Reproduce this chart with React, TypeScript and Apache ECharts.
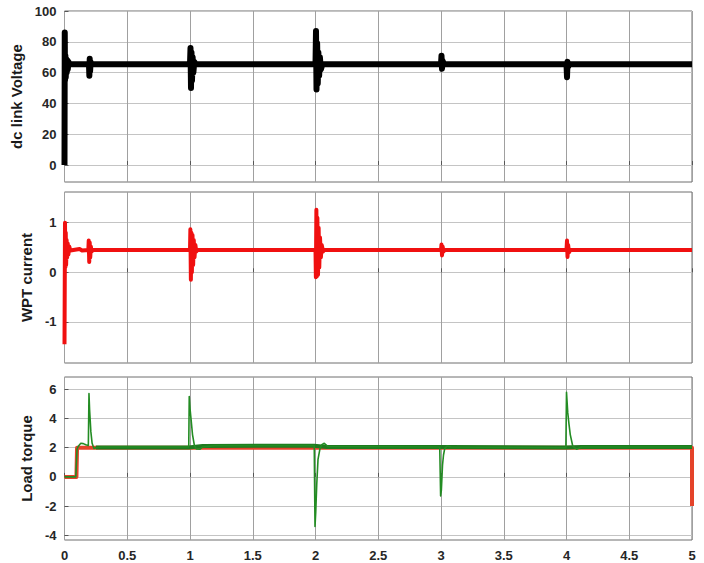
import React, { useEffect, useRef } from "react";
import * as echarts from "echarts";

// ---- tick labels ----
const timeTicks = [0, 0.5, 1, 1.5, 2, 2.5, 3, 3.5, 4, 4.5, 5];
const dcTicks = [0, 20, 40, 60, 80, 100];
const wptTicks = [-1, 0, 1];
const torqueTicks = [-4, -2, 0, 2, 4, 6];

// ---- axis names ----
const dcName = "dc link Voltage";
const wptName = "WPT current";
const torqueName = "Load torque";

// ---- series values [time s, value] ----
const dcVoltage: [number, number][] = [
  [0, 0], [0.002, 86], [0.004, 55], [0.007, 71], [0.01, 57], [0.013, 69], [0.017, 60], [0.021, 68],
  [0.026, 62], [0.032, 67], [0.04, 65.5],
  [0.195, 65.5], [0.198, 58], [0.201, 69], [0.204, 61], [0.208, 67], [0.214, 65.5],
  [1.0, 65.5], [1.004, 76], [1.008, 50], [1.012, 73], [1.016, 55], [1.021, 70], [1.027, 60], [1.034, 67], [1.045, 65.5],
  [2.0, 65.5], [2.004, 87], [2.008, 49], [2.013, 79], [2.018, 53], [2.023, 73], [2.029, 58], [2.035, 70], [2.043, 62], [2.055, 65.5],
  [3.0, 65.5], [3.004, 71], [3.008, 62.5], [3.014, 67.5], [3.022, 65.5],
  [4.0, 65.5], [4.004, 57], [4.008, 67], [4.014, 64], [4.022, 65.5],
  [5, 65.5],
];

const wptCurrent: [number, number][] = [
  [0, -1.45], [0.004, 1.0], [0.007, 0.1], [0.01, 0.8], [0.013, 0.15], [0.017, 0.65], [0.021, 0.3], [0.026, 0.58],
  [0.031, 0.36], [0.038, 0.52], [0.046, 0.44], [0.12, 0.47], [0.14, 0.44],
  [0.19, 0.45], [0.193, 0.64], [0.197, 0.21], [0.201, 0.6], [0.205, 0.3], [0.21, 0.52], [0.216, 0.42], [0.225, 0.45],
  [1.0, 0.45], [1.003, 0.87], [1.007, -0.15], [1.011, 0.8], [1.015, 0.0], [1.02, 0.75], [1.025, 0.15], [1.03, 0.65],
  [1.036, 0.3], [1.043, 0.55], [1.05, 0.42], [1.06, 0.45],
  [2.0, 0.45], [2.003, -0.1], [2.007, 1.26], [2.011, -0.08], [2.015, 1.1], [2.02, -0.05], [2.025, 0.9], [2.03, 0.1],
  [2.036, 0.7], [2.043, 0.3], [2.05, 0.55], [2.06, 0.42], [2.07, 0.45],
  [3.0, 0.45], [3.004, 0.56], [3.008, 0.34], [3.013, 0.52], [3.02, 0.42], [3.03, 0.45],
  [4.0, 0.45], [4.004, 0.64], [4.008, 0.31], [4.013, 0.55], [4.02, 0.4], [4.03, 0.45],
  [5, 0.45],
];

const torqueRef: [number, number][] = [
  [0, 0], [0.095, 0], [0.1, 2], [5, 2], [5, -2],
];

const torqueBand: [number, number][] = [
  [0.25, 2.02], [0.99, 2.02], [1.1, 2.12], [1.99, 2.14], [2.09, 2.05], [2.99, 2.04],
  [3.06, 2.04], [3.995, 2.02], [4.12, 2.05], [5, 2.05],
];

const torqueActual: [number, number][] = [
  [0, 0], [0.09, 0], [0.1, 1.9], [0.11, 2.1], [0.13, 2.3], [0.15, 2.28], [0.17, 2.2], [0.19, 2.15],
  [0.195, 5.7], [0.2, 4.6], [0.21, 3.1], [0.22, 2.3], [0.235, 1.95], [0.25, 2.0], [0.3, 2.05],
  [0.99, 2.05], [0.994, 5.5], [1.0, 4.7], [1.01, 3.8], [1.02, 2.9], [1.035, 2.15], [1.05, 1.92], [1.08, 1.9], [1.1, 2.05], [1.2, 2.14],
  [1.99, 2.15], [1.996, -3.4], [2.002, -2.4], [2.01, -0.5], [2.02, 1.2], [2.035, 1.9], [2.05, 2.2], [2.07, 2.3], [2.1, 2.08],
  [2.99, 2.05], [2.997, -1.3], [3.003, -0.9], [3.012, 0.8], [3.02, 1.5], [3.03, 1.95], [3.05, 2.12], [3.08, 2.05],
  [3.995, 2.0], [4.0, 5.8], [4.01, 4.4], [4.02, 3.6], [4.03, 2.9], [4.05, 2.1], [4.08, 1.9], [4.12, 2.05], [5, 2.05],
];

const FONT = "Liberation Sans, Arial, sans-serif";

export default function App() {
  const ref = useRef<HTMLDivElement>(null);

  useEffect(() => {
    if (!ref.current) return;
    const chart = echarts.init(ref.current, null, { renderer: "svg" });

    const grids = [
      { left: 64.5, right: 12, top: 11, height: 171 },
      { left: 64.5, right: 12, top: 192, height: 171 },
      { left: 64.5, right: 12, top: 377, height: 163 },
    ].map((g) => ({
      ...g,
      show: true,
      borderColor: "#6e6e6e",
      borderWidth: 1,
      backgroundColor: "#ffffff",
      containLabel: false,
    }));

    const xAxes = [0, 1, 2].map((i) => ({
      type: "value",
      gridIndex: i,
      min: 0,
      max: 5,
      interval: 0.5,
      axisLine: { show: false },
      axisTick: { show: true, inside: true, length: 4, lineStyle: { color: "#555" } },
      splitLine: { show: true, lineStyle: { color: "#a0a0a0", width: 1 } },
      axisLabel: {
        show: i === 2,
        margin: 9,
        fontSize: 13,
        fontWeight: "bold",
        fontFamily: FONT,
        color: "#262626",
        customValues: timeTicks,
      },
    }));

    const yCommon = (
      i: number,
      min: number,
      max: number,
      ticks: number[],
      splitNumber: number,
      name: string,
      nameGap: number
    ) => ({
      type: "value",
      gridIndex: i,
      min,
      max,
      splitNumber,
      name,
      nameLocation: "middle",
      nameGap,
      nameTextStyle: { fontSize: 15, fontWeight: "bold", fontFamily: FONT, color: "#1a1a1a" },
      axisLine: { show: false },
      axisTick: { show: true, inside: true, length: 4, lineStyle: { color: "#555" }, customValues: ticks },
      splitLine: { show: true, lineStyle: { color: "#c4c4c4", width: 1 } },
      axisLabel: {
        margin: 8,
        fontSize: 13,
        fontWeight: "bold",
        fontFamily: FONT,
        color: "#262626",
        customValues: ticks,
      },
    });

    const yAxes = [
      yCommon(0, -11, 100, dcTicks, 5, dcName, 35),
      yCommon(1, -1.83, 1.62, wptTicks, 3, wptName, 25),
      yCommon(2, -4.32, 6.84, torqueTicks, 5, torqueName, 22),
    ];

    const line = (
      name: string,
      data: [number, number][],
      idx: number,
      color: string,
      width: number
    ) => ({
      name,
      type: "line",
      xAxisIndex: idx,
      yAxisIndex: idx,
      data,
      showSymbol: false,
      symbol: "none",
      silent: true,
      clip: true,
      lineStyle: { color, width, join: "round", cap: "butt" },
    });

    chart.setOption({
      animation: false,
      backgroundColor: "#ffffff",
      grid: grids,
      xAxis: xAxes,
      yAxis: yAxes,
      series: [
        line("dc link Voltage", dcVoltage, 0, "#000000", 6),
        line("WPT current", wptCurrent, 1, "#f01010", 4),
        line("Reference torque", torqueRef, 2, "#e4432a", 4),
        line("Load torque band", torqueBand, 2, "#1f7a1f", 4),
        line("Load torque", torqueActual, 2, "#238c23", 1.6),
      ],
    });

    return () => chart.dispose();
  }, []);

  return (
    <div
      ref={ref}
      style={{ position: "fixed", left: 0, top: 0, width: 704, height: 563, background: "#fff" }}
    />
  );
}
